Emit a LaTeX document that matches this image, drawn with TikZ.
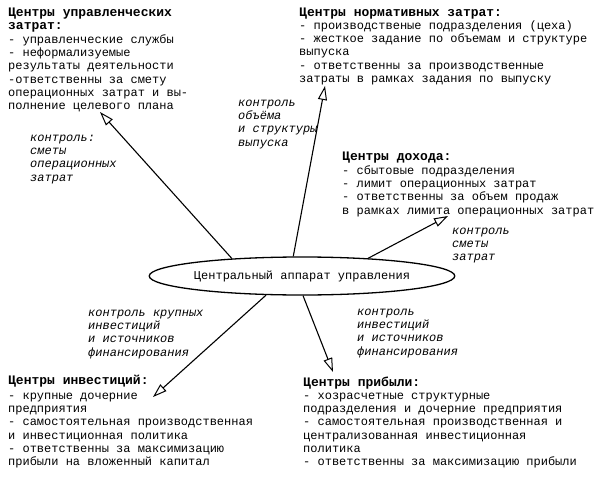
\documentclass[tikz,border=0pt]{standalone}
\usepackage{fontspec}
\setmainfont{Liberation Mono}
\usetikzlibrary{arrows.meta,shapes.geometric}
\newcommand\mystrut{\rule{0pt}{10pt}}
\begin{document}
\begin{tikzpicture}[x=1pt,y=-1pt,
  body/.style={anchor=north west,inner sep=0pt,align=left,font=\fontsize{12}{13.3}\selectfont},
  head/.style={anchor=north west,inner sep=0pt,align=left,font=\fontsize{13}{13.3}\selectfont\bfseries},
  lbl/.style={anchor=north west,inner sep=0pt,align=left,font=\fontsize{12}{13.3}\selectfont\itshape},
  arr/.style={line width=1.1pt,-{Triangle[open,length=14pt,width=9pt,line width=1pt]}}]
\useasboundingbox (0,0) rectangle (600,479);
\fill[white] (0,0) rectangle (600,479);

% central ellipse
\node[draw,ellipse,line width=1.3pt,minimum width=299pt,minimum height=38pt,inner sep=0pt,
      font=\fontsize{12}{14}\selectfont] (ell) at (302,276) {Центральный аппарат управления};

% block 1
\node[head] (h1) at (8,6) {\mystrut Центры управленческих\\затрат:};
\node[body] (b1) at (8,33) {\mystrut - управленческие службы\\- неформализуемые\\результаты деятельности\\-ответственны за смету\\операционных затрат и вы-\\полнение целевого плана};

% block 2
\node[head] (h2) at (299,6) {\mystrut Центры нормативных затрат:};
\node[body] (b2) at (299,19) {\mystrut - производственые подразделения (цеха)\\- жесткое задание по объемам и структуре\\выпуска\\- ответственны за производственные\\затраты в рамках задания по выпуску};

% block 3
\node[head] (h3) at (342,150) {\mystrut Центры дохода:};
\node[body] (b3) at (342,164) {\mystrut - сбытовые подразделения\\- лимит операционных затрат\\- ответственны за объем продаж\\в рамках лимита операционных затрат};

% block 4
\node[head] (h4) at (8,374) {\mystrut Центры инвестиций:};
\node[body] (b4) at (8,389) {\mystrut - крупные дочерние\\предприятия\\- самостоятельная производственная\\и инвестиционная политика\\- ответственны за максимизацию\\прибыли на вложенный капитал};

% block 5
\node[head] (h5) at (303,376) {\mystrut Центры прибыли:};
\node[body] (b5) at (303,389) {\mystrut - хозрасчетные структурные\\подразделения и дочерние предприятия\\- самостоятельная производственная и\\централизованная инвестиционная\\политика\\- ответственны за максимизацию прибыли};

% labels
\node[lbl] (l1) at (30,131) {\mystrut контроль:\\сметы\\операционных\\затрат};
\node[lbl] (l2) at (238,96) {\mystrut контроль\\объёма\\и структуры\\выпуска};
\node[lbl] (l3) at (452,224) {\mystrut контроль\\сметы\\затрат};
\node[lbl] (l4) at (88,306) {\mystrut контроль крупных\\инвестиций\\и источников\\финансирования};
\node[lbl] (l5) at (357,305) {\mystrut контроль\\инвестиций\\и источников\\финансирования};

% arrow tips
\coordinate (t1) at (100,112);
\coordinate (t2) at (325,86);
\coordinate (t3) at (448,216);
\coordinate (t4) at (153,397);
\coordinate (t5) at (333,372);

\draw[arr] (ell.166) -- (t1);
\draw[arr] (ell.114) -- (t2);
\draw[arr] (ell.15) -- (t3);
\draw[arr] (ell.208) -- (t4);
\draw[arr] (ell.273) -- (t5);
\end{tikzpicture}
\end{document}
